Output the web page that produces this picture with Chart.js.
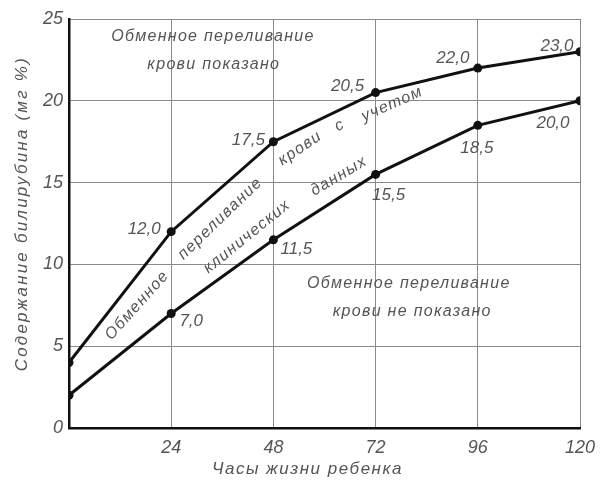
<!DOCTYPE html>
<html>
<head>
<meta charset="utf-8">
<script src="https://cdn.jsdelivr.net/npm/chart.js@4/dist/chart.umd.min.js"></script>
<style>
    html, body { margin: 0; padding: 0; background: #fff; }
    #wrap { width: 608px; height: 489px; position: relative; }
</style>
</head>
<body>
<div id="wrap"><canvas id="bilirubinChart" width="608" height="489"></canvas></div>
<script>
// часы жизни ребенка
const HOURS = [0, 24, 48, 72, 96, 120];
// верхняя граница (мг %)
const UPPER_LEVEL = [4.0, 12.0, 17.5, 20.5, 22.0, 23.0];
// нижняя граница (мг %)
const LOWER_LEVEL = [2.0, 7.0, 11.5, 15.5, 18.5, 20.0];
const X_TICKS = [0, 24, 48, 72, 96, 120];
const Y_TICKS = [0, 5, 10, 15, 20, 25];

const X_TITLE = "Часы жизни ребенка";
const Y_TITLE = "Содержание билирубина (мг %)";

const INK = "#111111";
const TEXT = "#555555";
const GRID = "#8a8a8a";
const FONT = '"Liberation Sans", "DejaVu Sans", sans-serif';

const toPoints = (ys) => HOURS.map((h, i) => ({ x: h, y: ys[i] }));
const fmt = (v) => v.toFixed(1).replace(".", ",");

// смещения подписей значений относительно точек (px)
const UPPER_OFFSETS = [null, [-27, -2], [-25, -1], [-28, -6], [-25, -10], [-23, -5]];
const LOWER_OFFSETS = [null, [20, 8], [23, 9], [13, 21], [-1, 23], [-27, 22]];

// надписи на поле графика (в единицах осей)
const NOTES = [
    { text: "Обменное переливание", x: 33.8, y: 23.9, angle: 0 },
    { text: "крови показано", x: 34.0, y: 22.2, angle: 0 },
    { text: "Обменное переливание", x: 79.8, y: 8.86, angle: 0 },
    { text: "крови не показано", x: 80.6, y: 7.1, angle: 0 },
    { text: "Обменное", x: 16.0, y: 7.5, angle: -48 },
    { text: "переливание", x: 35.5, y: 12.8, angle: -44 },
    { text: "крови", x: 54.3, y: 17.1, angle: -34 },
    { text: "с", x: 63.6, y: 18.5, angle: -28 },
    { text: "учетом", x: 75.9, y: 19.8, angle: -24 },
    { text: "клинических", x: 41.8, y: 11.7, angle: -39 },
    { text: "данных", x: 63.4, y: 15.4, angle: -31 },
];

const labelsPlugin = {
    id: "valueLabels",
    afterDatasetsDraw(chart) {
        const { ctx, scales, chartArea } = chart;
        ctx.save();
        ctx.fillStyle = TEXT;
        ctx.textAlign = "center";
        ctx.textBaseline = "middle";

        ctx.font = "italic 17px " + FONT;
        chart.data.datasets.forEach((ds, di) => {
            const offsets = di === 0 ? UPPER_OFFSETS : LOWER_OFFSETS;
            chart.getDatasetMeta(di).data.forEach((pt, i) => {
                const off = offsets[i];
                if (!off) return;
                ctx.fillText(fmt(ds.data[i].y), pt.x + off[0], pt.y + off[1]);
            });
        });

        ctx.font = "italic 16px " + FONT;
        ctx.letterSpacing = "1.3px";
        NOTES.forEach((n) => {
            const px = scales.x.getPixelForValue(n.x);
            const py = scales.y.getPixelForValue(n.y);
            ctx.save();
            ctx.translate(px, py);
            ctx.rotate((n.angle * Math.PI) / 180);
            ctx.fillText(n.text, 0, 0);
            ctx.restore();
        });

        // подписи осей
        ctx.font = "italic 17px " + FONT;
        ctx.letterSpacing = "1.5px";
        ctx.fillText(X_TITLE, scales.x.getPixelForValue(56), chartArea.bottom + 41);
        ctx.save();
        ctx.translate(chartArea.left - 47, scales.y.getPixelForValue(13.1));
        ctx.rotate(-Math.PI / 2);
        ctx.letterSpacing = "2.2px";
        ctx.fillText(Y_TITLE, 0, 0);
        ctx.restore();
        ctx.restore();
    },
};

const lineStyle = {
    borderColor: INK,
    backgroundColor: INK,
    borderWidth: 3,
    pointRadius: 4.5,
    pointBackgroundColor: INK,
    pointBorderWidth: 0,
    showLine: true,
    tension: 0,
};

new Chart(document.getElementById("bilirubinChart"), {
    type: "scatter",
    data: {
        datasets: [
            { label: "upper", data: toPoints(UPPER_LEVEL), ...lineStyle },
            { label: "lower", data: toPoints(LOWER_LEVEL), ...lineStyle },
        ],
    },
    options: {
        responsive: false,
        animation: false,
        layout: { padding: { top: 19, right: 28, left: 0, bottom: 0 } },
        plugins: {
            legend: { display: false },
            tooltip: { enabled: false },
        },
        scales: {
            x: {
                type: "linear",
                min: X_TICKS[0],
                max: X_TICKS[X_TICKS.length - 1],
                afterBuildTicks: (scale) => { scale.ticks = X_TICKS.map((v) => ({ value: v })); },
                afterFit: (scale) => { scale.height = 61; },
                border: { color: INK, width: 2.5 },
                grid: { color: GRID, lineWidth: 1, drawTicks: false },
                ticks: {
                    color: TEXT,
                    padding: 9,
                    font: { family: FONT, size: 18, style: "italic" },
                    callback: (v) => (v === 0 ? "" : v),
                },
            },
            y: {
                min: Y_TICKS[0],
                max: Y_TICKS[Y_TICKS.length - 1],
                afterBuildTicks: (scale) => { scale.ticks = Y_TICKS.map((v) => ({ value: v })); },
                afterFit: (scale) => { scale.width = 69; },
                border: { color: INK, width: 2.5 },
                grid: { color: GRID, lineWidth: 1, drawTicks: false },
                ticks: {
                    color: TEXT,
                    padding: 6,
                    font: { family: FONT, size: 18, style: "italic" },
                },
            },
        },
    },
    plugins: [labelsPlugin],
});
</script>
</body>
</html>
